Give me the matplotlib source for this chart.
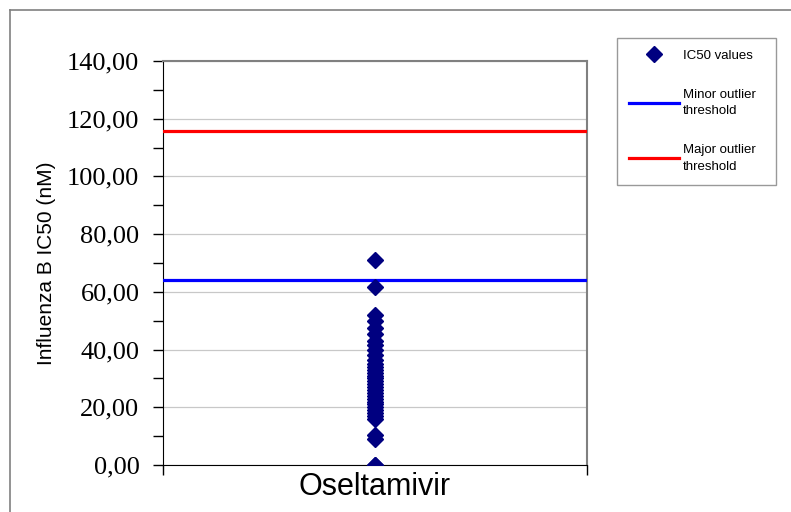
import matplotlib
matplotlib.use("Agg")
import matplotlib.pyplot as plt
from matplotlib.lines import Line2D

# Data
categories = ["Oseltamivir"]
ic50_values = [71.0, 61.7, 52.0, 50.0, 47.5, 45.5, 43.0, 41.5, 40.0, 38.0,
               36.5, 35.0, 34.0, 33.0, 32.0, 31.0, 30.0, 29.0, 28.0, 27.0,
               26.0, 25.0, 24.0, 23.0, 22.0, 21.0, 20.0, 19.0, 18.0, 17.0,
               16.0, 10.5, 9.0, 0.0, 0.0]
minor_threshold = 64.1
major_threshold = 115.6
y_ticks = [0, 20, 40, 60, 80, 100, 120, 140]
y_tick_labels = ["0,00", "20,00", "40,00", "60,00", "80,00", "100,00", "120,00", "140,00"]

fig = plt.figure(figsize=(7.91, 5.12), dpi=100)
ax = fig.add_axes([163/791, 1-465/512, (587-163)/791, (465-61)/512])

xs = [1] * len(ic50_values)
sc, = ax.plot(xs, ic50_values, linestyle="none", marker="D", markersize=8.5,
              color="#000080", label="IC50 values", zorder=4)
ln1 = ax.axhline(minor_threshold, color="#0000FF", linewidth=2.3,
                 label="Minor outlier\nthreshold", zorder=3)
ln2 = ax.axhline(major_threshold, color="#FF0000", linewidth=2.3,
                 label="Major outlier\nthreshold", zorder=3)

ax.set_xlim(0.5, 1.5)
ax.set_ylim(0, 140)
ax.set_yticks(y_ticks)
ax.set_yticklabels(y_tick_labels, fontfamily="Liberation Serif", fontsize=19)
ax.set_yticks(range(10, 140, 20), minor=True)
ax.tick_params(axis="y", which="major", direction="out", length=7, width=1, pad=10, color="black")
ax.tick_params(axis="y", which="minor", direction="out", length=7, width=1, color="black")

ax.set_xticks([0.5, 1.5])
ax.set_xticklabels(["", ""])
ax.tick_params(axis="x", which="major", direction="out", length=7, width=1, color="black")
ax.set_xticks([1], categories, minor=True)
ax.tick_params(axis="x", which="minor", length=0, pad=5)
for lab in ax.get_xticklabels(minor=True):
    lab.set_fontfamily("Liberation Sans")
    lab.set_fontsize(22)

ax.grid(axis="y", which="major", color="#C8C8C8", linewidth=0.9, zorder=0)
ax.set_axisbelow(True)

ax.spines["left"].set_color("black")
ax.spines["bottom"].set_color("black")
ax.spines["top"].set_color("#808080")
ax.spines["right"].set_color("#808080")
ax.spines["top"].set_linewidth(1.5)
ax.spines["right"].set_linewidth(1.5)

ax.set_ylabel("Influenza B IC50 (nM)", fontfamily="Liberation Sans", fontsize=15, labelpad=8)

leg = fig.legend(handles=[sc, ln1, ln2], loc="upper left",
                 bbox_to_anchor=(617/791, 1-185/512, 159/791, 147/512), mode="expand",
                 frameon=True, fancybox=False,
                 prop={"family": "Liberation Sans", "size": 9.5},
                 handlelength=3.8, handletextpad=0.3, labelspacing=2.0,
                 borderpad=0.9, borderaxespad=0)
for t in leg.get_texts():
    t.set_linespacing(1.55)
leg.get_frame().set_edgecolor("#808080")
leg.get_frame().set_linewidth(1.0)

# outer chart frame (left and top edges)
fig.add_artist(Line2D([9.5/791, 9.5/791], [0, 1-10/512], transform=fig.transFigure,
                      color="#808080", linewidth=1.2))
fig.add_artist(Line2D([9.5/791, 1], [1-10/512, 1-10/512], transform=fig.transFigure,
                      color="#808080", linewidth=1.2))

fig.savefig("out.png", dpi=100)
